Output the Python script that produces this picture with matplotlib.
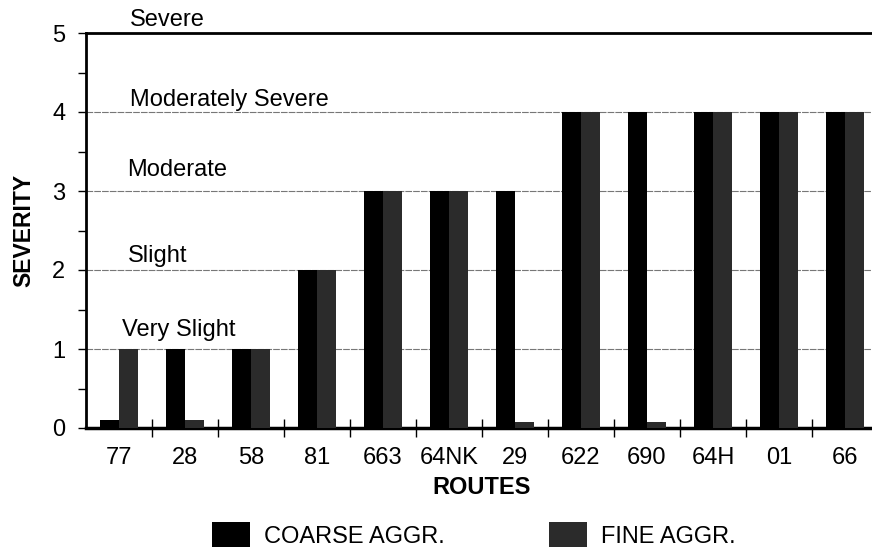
import matplotlib
matplotlib.use("Agg")
import matplotlib.pyplot as plt
import numpy as np
from matplotlib.patches import Patch

plt.rcParams['font.family'] = ['Liberation Sans', 'DejaVu Sans']

routes = ["77", "28", "58", "81", "663", "64NK", "29", "622", "690", "64H", "01", "66"]
coarse = [0.1, 1, 1, 2, 3, 3, 3, 4, 4, 4, 4, 4]
fine = [1, 0.1, 1, 2, 3, 3, 0.07, 4, 0.07, 4, 4, 4]
levels = ["Very Slight", "Slight", "Moderate", "Moderately Severe", "Severe"]
level_pos = [1.24, 2.18, 3.27, 4.15, 5.16]
level_x = [0.55, 0.63, 0.63, 0.67, 0.67]

fig = plt.figure(figsize=(8.72, 5.5), dpi=100)
ax = fig.add_axes([86/872, 1-428/550, 792/872, 395/550])

x = np.arange(len(routes))
w = 0.29
fine_color = '#2b2b2b'
ax.bar(x - w/2, coarse, width=w, color='black', zorder=3)
ax.bar(x + w/2, fine, width=w, color=fine_color, zorder=3)

ax.set_xlim(-0.5, len(routes) - 0.5)
ax.set_ylim(0, 5)
ax.set_yticks([0, 1, 2, 3, 4, 5])
ax.set_yticks(np.arange(0.5, 5, 1), minor=True)
ax.tick_params(axis='y', which='both', direction='out', length=6, width=1, labelsize=17, pad=9)
ax.set_xticks(x)
ax.set_xticklabels(routes, fontsize=17)
ax.set_xticks(np.arange(0.5, len(routes) - 0.5, 1), minor=True)
ax.tick_params(axis='x', which='major', length=0, pad=14)
ax.tick_params(axis='x', which='minor', direction='inout', length=13, width=1)

for yv in [1, 2, 3, 4]:
    ax.axhline(yv, color='#777777', lw=0.8, ls=(0, (6, 1)), zorder=1)

ax.spines['right'].set_visible(False)
ax.spines['top'].set_linewidth(2)
ax.spines['left'].set_linewidth(2)
ax.spines['bottom'].set_linewidth(2.5)

for lab, yp, xp in zip(levels, level_pos, level_x):
    ax.text(xp - 0.5, yp, lab, fontsize=17, va='center', ha='left', zorder=4,
            clip_on=False)

ax.set_ylabel("SEVERITY", fontsize=16.5, fontweight='bold', labelpad=12)
ax.set_xlabel("ROUTES", fontsize=17, fontweight='bold', labelpad=5)

handles = [Patch(facecolor='black'), Patch(facecolor=fine_color)]
fig.legend(handles, ["COARSE AGGR.", "FINE AGGR."], loc='center', ncol=2,
           bbox_to_anchor=(474/872, 1-535/550), frameon=False, fontsize=17,
           handlelength=1.6, handleheight=1.27, columnspacing=4.4, handletextpad=0.6,
           borderpad=0.2)

fig.savefig("out.png", dpi=100)
